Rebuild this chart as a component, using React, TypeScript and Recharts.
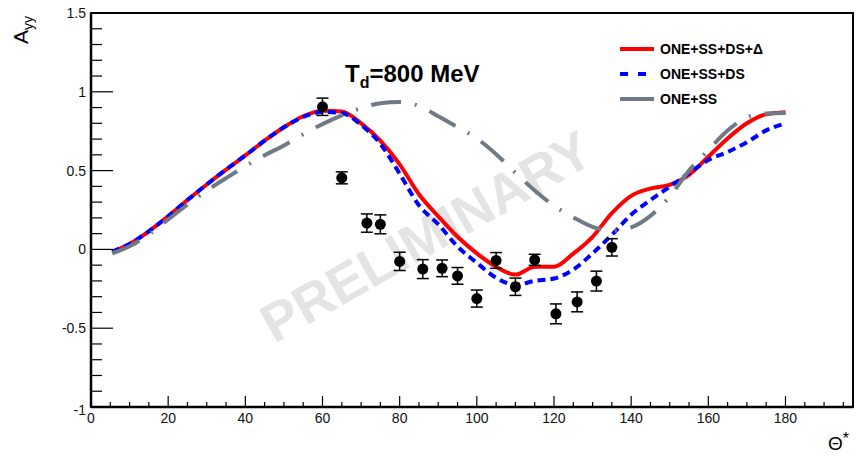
import { ComposedChart, Line, Scatter, ErrorBar, XAxis, YAxis, ReferenceArea, Legend } from "recharts";

// theory curves, sampled on a common angle grid
const theta = [5.5, 10, 15, 20, 25, 30, 35, 40, 45, 50, 55, 60, 65, 70, 75, 80, 85, 90, 95, 100, 105, 110, 115, 120, 125, 130, 135, 140, 145, 150, 155, 160, 165, 170, 175, 180];
const oneSsDsDelta = [-0.015, 0.035, 0.115, 0.21, 0.313, 0.412, 0.506, 0.596, 0.69, 0.775, 0.845, 0.88, 0.875, 0.8, 0.69, 0.54, 0.35, 0.21, 0.08, -0.025, -0.11, -0.16, -0.11, -0.11, -0.027, 0.08, 0.23, 0.34, 0.386, 0.41, 0.473, 0.588, 0.704, 0.8, 0.857, 0.87];
const oneSsDs = [-0.015, 0.035, 0.115, 0.21, 0.313, 0.412, 0.506, 0.596, 0.69, 0.775, 0.84, 0.872, 0.865, 0.79, 0.67, 0.48, 0.28, 0.16, 0.018, -0.085, -0.18, -0.225, -0.2, -0.185, -0.128, -0.025, 0.092, 0.22, 0.313, 0.398, 0.483, 0.567, 0.618, 0.68, 0.755, 0.8];
const oneSs = [-0.025, 0.02, 0.095, 0.19, 0.284, 0.373, 0.452, 0.527, 0.597, 0.66, 0.73, 0.795, 0.85, 0.896, 0.928, 0.935, 0.91, 0.845, 0.776, 0.704, 0.604, 0.486, 0.374, 0.277, 0.203, 0.143, 0.118, 0.14, 0.213, 0.336, 0.5, 0.63, 0.754, 0.837, 0.863, 0.866];

// measured points
const dataTheta = [60, 65, 71.5, 75, 80, 86, 91, 95, 100, 105, 110, 115, 120.5, 126, 131, 135];
const dataAyy = [0.905, 0.454, 0.167, 0.159, -0.076, -0.125, -0.12, -0.168, -0.312, -0.07, -0.237, -0.066, -0.409, -0.333, -0.201, 0.013];
const dataErr = [0.055, 0.038, 0.058, 0.06, 0.058, 0.06, 0.053, 0.053, 0.054, 0.05, 0.055, 0.035, 0.063, 0.063, 0.063, 0.055];

const xTicks = [0, 5, 10, 15, 20, 25, 30, 35, 40, 45, 50, 55, 60, 65, 70, 75, 80, 85, 90, 95, 100, 105, 110, 115, 120, 125, 130, 135, 140, 145, 150, 155, 160, 165, 170, 175, 180, 185, 190, 195];
const xMajor = [0, 20, 40, 60, 80, 100, 120, 140, 160, 180];
const yTicks = [-1, -0.9, -0.8, -0.7, -0.6, -0.5, -0.4, -0.3, -0.2, -0.1, 0, 0.1, 0.2, 0.3, 0.4, 0.5, 0.6, 0.7, 0.8, 0.9, 1, 1.1, 1.2, 1.3, 1.4, 1.5];
const yMajor = [-1, -0.5, 0, 0.5, 1, 1.5];
const X_MAX = 197.5;

const FONT = '"Liberation Sans", Arial, Helvetica, sans-serif';

const series = [
  { name: "ONE+SS+DS+\u0394", values: oneSsDsDelta, color: "#ff0000", dash: undefined, legendDash: undefined },
  { name: "ONE+SS+DS", values: oneSsDs, color: "#0000ff", dash: "8 5", legendDash: "8 10" },
  { name: "ONE+SS", values: oneSs, color: "#6f7a86", dash: "30 14 2 14", legendDash: undefined },
];

const points = dataTheta.map((t, i) => ({ theta: t, ayy: dataAyy[i], err: dataErr[i] }));

function XTick(props: any) {
  const { x, y, payload } = props;
  const major = xMajor.includes(payload.value);
  return (
    <g>
      <line x1={x} x2={x} y1={y} y2={y - (major ? 11 : 5)} stroke="#000" strokeWidth={1.2} />
      {major && (
        <text x={x} y={y + 16} textAnchor="middle" fontSize={14} fontFamily={FONT} fill="#111">
          {payload.value}
        </text>
      )}
    </g>
  );
}

function YTick(props: any) {
  const { x, y, payload } = props;
  const major = yMajor.includes(payload.value);
  return (
    <g>
      <line x1={x} x2={x + (major ? 22 : 11)} y1={y} y2={y} stroke="#000" strokeWidth={1.2} />
      {major && (
        <text x={x - 5} y={y + 5 + (payload.value === -1 ? 3 : 0)} textAnchor="end" fontSize={14} fontFamily={FONT} fill="#111">
          {payload.value}
        </text>
      )}
    </g>
  );
}

function LegendBox() {
  return (
    <svg width={170} height={80} style={{ display: "block" }}>
      {series.map((s, i) => (
        <g key={s.name}>
          <line x1={2} x2={36} y1={11 + i * 25} y2={11 + i * 25} stroke={s.color} strokeWidth={4} strokeDasharray={s.legendDash} />
          <text x={42} y={16 + i * 25} fontSize={14} fontWeight="bold" fontFamily={FONT} fill="#000">
            {s.name}
          </text>
        </g>
      ))}
    </svg>
  );
}

export default function App() {
  return (
    <div style={{ position: "absolute", left: 0, top: 0, width: 864, height: 456, background: "#fff" }}>
      <svg width={864} height={456} style={{ position: "absolute", left: 0, top: 0 }}>
        <text
          x={0}
          y={0}
          transform="translate(426,236) rotate(-29.5)"
          textAnchor="middle"
          dominantBaseline="central"
          fontSize={54}
          fontWeight="bold"
          fontFamily={FONT}
          fill="#e4e4e4"
        >
          PRELIMINARY
        </text>
        <text x={345} y={82} fontSize={24} fontWeight="bold" fontFamily={FONT} fill="#000">
          T<tspan fontSize={16} dy={6}>d</tspan>
          <tspan dy={-6}>=800 MeV</tspan>
        </text>
        <text transform="translate(28,44) rotate(-90)" fontSize={21} fontFamily={FONT} fill="#000">
          A<tspan fontSize={14} dy={5}>yy</tspan>
        </text>
        <text x={828} y={450} fontSize={19} fontFamily={FONT} fill="#000">
          {"\u0398"}<tspan fontSize={16} dy={-6}>*</tspan>
        </text>
      </svg>
      <div style={{ position: "absolute", left: 0, top: 0 }}>
        <ComposedChart width={864} height={456} margin={{ top: 13, right: 11, bottom: 0, left: 0 }}>
          <XAxis
            dataKey="theta"
            type="number"
            domain={[0, X_MAX]}
            allowDataOverflow
            ticks={xTicks}
            interval={0}
            tickSize={0}
            tickMargin={0}
            tick={<XTick />}
            height={49}
            axisLine={{ stroke: "#000", strokeWidth: 2.5 }}
          />
          <YAxis
            type="number"
            domain={[-1, 1.5]}
            allowDataOverflow
            ticks={yTicks}
            interval={0}
            tickSize={0}
            tickMargin={0}
            tick={<YTick />}
            width={91}
            axisLine={{ stroke: "#000", strokeWidth: 2.5 }}
          />
          <ReferenceArea x1={0} x2={X_MAX} y1={-1} y2={1.5} fill="none" stroke="#000" strokeWidth={2} />
          {series.map((s) => (
            <Line
              key={s.name}
              data={theta.map((t, i) => ({ theta: t, v: s.values[i] }))}
              dataKey="v"
              name={s.name}
              type="monotone"
              stroke={s.color}
              strokeWidth={4}
              strokeDasharray={s.dash}
              dot={false}
              activeDot={false}
              isAnimationActive={false}
            />
          ))}
          <Scatter
            data={points}
            dataKey="ayy"
            isAnimationActive={false}
            shape={(p: any) => <circle cx={p.cx} cy={p.cy} r={5.5} fill="#000" />}
          >
            <ErrorBar dataKey="err" direction="y" width={6} stroke="#000" strokeWidth={1.5} />
          </Scatter>
          <Legend
            layout="vertical"
            align="center"
            verticalAlign="middle"
            wrapperStyle={{ position: "absolute", left: 618, top: 38, width: 170 }}
            content={() => <LegendBox />}
          />
        </ComposedChart>
      </div>
    </div>
  );
}
